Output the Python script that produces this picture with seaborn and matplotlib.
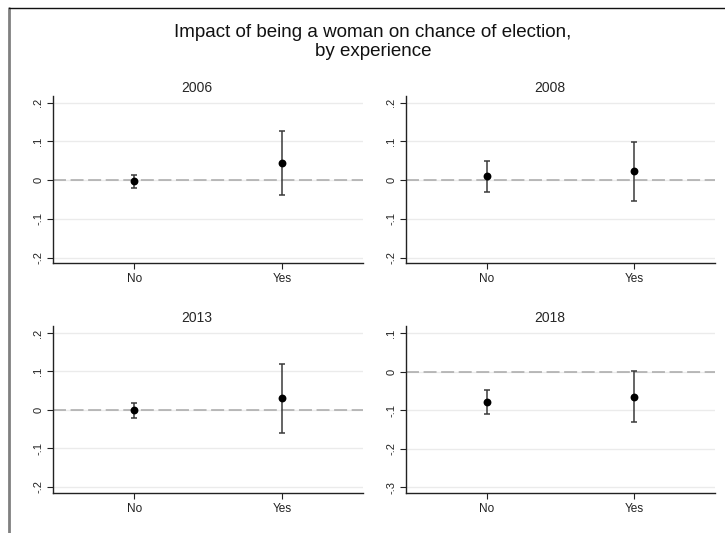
import numpy as np
import pandas as pd
import matplotlib
matplotlib.use("Agg")
import matplotlib.pyplot as plt
from matplotlib.lines import Line2D
import seaborn as sns

# estimates
years = ["2006", "2008", "2013", "2018"]
groups = ["No", "Yes"]
est = {
    "2006": [-0.003, 0.043],
    "2008": [0.010, 0.023],
    "2013": [0.000, 0.031],
    "2018": [-0.079, -0.065],
}
lo = {
    "2006": [-0.021, -0.039],
    "2008": [-0.030, -0.054],
    "2013": [-0.022, -0.059],
    "2018": [-0.109, -0.131],
}
hi = {
    "2006": [0.014, 0.127],
    "2008": [0.050, 0.099],
    "2013": [0.019, 0.120],
    "2018": [-0.049, 0.002],
}
yticks = {
    "2006": [-0.2, -0.1, 0.0, 0.1, 0.2],
    "2008": [-0.2, -0.1, 0.0, 0.1, 0.2],
    "2013": [-0.2, -0.1, 0.0, 0.1, 0.2],
    "2018": [-0.3, -0.2, -0.1, 0.0, 0.1],
}
ylims = {
    "2006": (-0.214, 0.217),
    "2008": (-0.214, 0.217),
    "2013": (-0.216, 0.218),
    "2018": (-0.315, 0.118),
}

sns.set_theme(style="white")
plt.rcParams["font.family"] = ["Liberation Sans", "DejaVu Sans"]


def stata_label(v):
    s = f"{v:g}"
    if s.startswith("0."):
        s = s[1:]
    elif s.startswith("-0."):
        s = "-" + s[2:]
    return s


fig = plt.figure(figsize=(7.25, 5.33), dpi=100)

W, H = 725, 533
boxes = [
    (53, 96, 363, 263),
    (406, 96, 715, 263),
    (53, 326, 363, 493),
    (406, 326, 715, 493),
]

for year, (x0, y0, x1, y1) in zip(years, boxes):
    ax = fig.add_axes([x0 / W, 1 - y1 / H, (x1 - x0) / W, (y1 - y0) / H])
    df = pd.DataFrame({"group": groups, "est": est[year],
                       "lo": lo[year], "hi": hi[year]})
    df["x"] = np.arange(len(groups))

    for t in yticks[year]:
        ax.axhline(t, color="#ebebeb", lw=1, zorder=0)
    ax.axhline(0, color="#a8a8a8", lw=1.1, ls=(0, (8.5, 3)), zorder=1)

    ax.errorbar(df["x"], df["est"],
                yerr=[df["est"] - df["lo"], df["hi"] - df["est"]],
                fmt="none", ecolor="#3a3a3a", elinewidth=1.1,
                capsize=2.3, capthick=1.1, zorder=2)
    sns.scatterplot(data=df, x="x", y="est", ax=ax, color="black",
                    s=32, edgecolor="black", linewidth=0, zorder=3,
                    legend=False)

    ax.set_xlim(-0.55, 1.55)
    ax.set_ylim(*ylims[year])
    ax.set_xticks(df["x"])
    ax.set_xticklabels(groups, fontsize=8.5)
    ax.set_yticks(yticks[year])
    ax.set_yticklabels([stata_label(t) for t in yticks[year]],
                       fontsize=8, rotation=90, va="center")
    ax.set_xlabel("")
    ax.set_ylabel("")
    ax.set_title(year, fontsize=10, x=0.465, pad=3)

    for side in ["top", "right"]:
        ax.spines[side].set_visible(False)
    for side in ["left", "bottom"]:
        ax.spines[side].set_color("#222222")
        ax.spines[side].set_linewidth(1)
    ax.tick_params(axis="both", which="major", length=4, width=0.8,
                   color="#222222", pad=3, bottom=True, left=True,
                   labelcolor="#222222")

fig.text(373 / W, 1 - 24 / H,
         "Impact of being a woman on chance of election,\nby experience",
         ha="center", va="top", fontsize=13.5, linespacing=1.12,
         color="#111111")

# outer frame left and top
fig.add_artist(Line2D([9 / W, 9 / W], [0, 1 - 7.5 / H],
                      transform=fig.transFigure, color="#808080", lw=2))
fig.add_artist(Line2D([9 / W, 1], [1 - 7.5 / H, 1 - 7.5 / H],
                      transform=fig.transFigure, color="#111111", lw=1))

fig.savefig("out.png", dpi=100)
